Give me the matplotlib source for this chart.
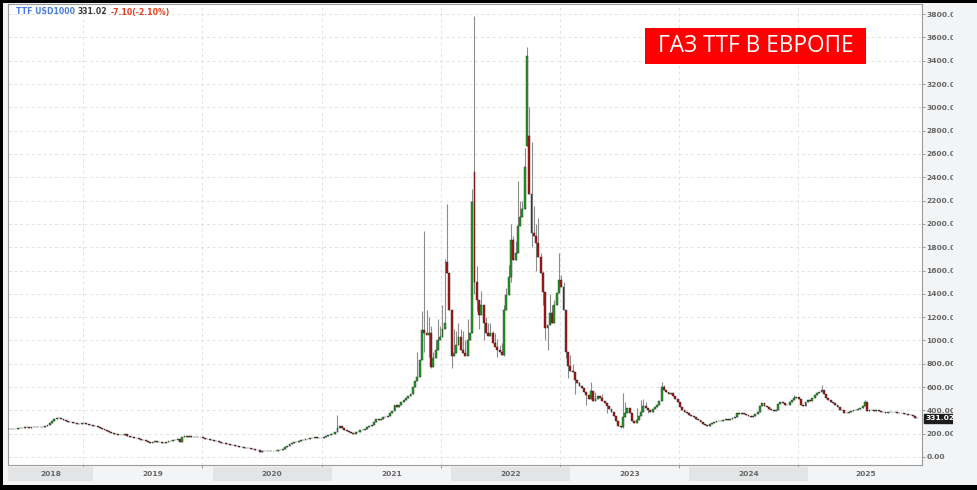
import numpy as np
import pandas as pd
import matplotlib
matplotlib.use("Agg")
import matplotlib.pyplot as plt
import matplotlib.dates as mdates
import matplotlib.transforms as mtransforms
from matplotlib.patches import Rectangle

# weekly closes, USD per 1000 m3
c2018 = [238, 240, 243, 241, 246, 252, 249, 253, 255, 251, 255, 257, 254, 258, 256,
         258, 264, 278, 292, 310, 327, 333, 338, 330, 318, 312, 304, 300, 292, 288,
         284, 286, 290, 292, 285, 275, 270, 266]
c2019 = [262, 255, 247, 240, 230, 222, 212, 205, 200, 196, 190, 186, 190, 195, 182,
         175, 170, 163, 160, 152, 148, 144, 136, 128, 123, 128, 140, 132, 126, 118,
         124, 132, 138, 140, 144, 147, 152, 132, 175, 176, 174, 177, 175, 173, 172,
         170, 167, 163, 158, 152, 147, 142]
c2020 = [140, 133, 128, 122, 116, 112, 108, 104, 100, 97, 92, 88, 84, 80, 76,
         74, 72, 68, 64, 60, 44, 48, 52, 54, 52, 55, 54, 53, 56, 60,
         72, 84, 95, 110, 122, 126, 132, 140, 145, 148, 152, 155, 160, 165, 168,
         166, 162, 164, 172, 180, 186, 195]
c2021 = [200, 215, 252, 262, 245, 232, 225, 212, 205, 198, 210, 215, 228, 232, 240,
         255, 262, 270, 300, 330, 318, 325, 340, 345, 350, 375, 395, 447, 433, 450,
         475, 490, 510, 519, 540, 600, 650, 690, 830, 1092, 1066, 1050, 1060, 774, 851,
         920, 1006, 1032, 1100, 1152, 1582, 1264]
c2022 = [870, 894, 963, 1032, 920, 894, 870, 1000, 1066, 2184, 1505, 1350, 1221, 1300, 1150,
         1066, 1040, 1066, 980, 946, 920, 900, 877, 1264, 1393, 1548, 1866, 1694, 1754, 1978,
         2055, 2124, 2485, 3440, 2253, 1926, 1892, 1840, 1720, 1582, 1419, 1109, 1135, 1238, 1152,
         1300, 1410, 1522, 1462, 1264, 903, 780]
c2023 = [740, 730, 660, 636, 610, 590, 560, 530, 500, 570, 480, 500, 520, 505, 480,
         460, 440, 410, 390, 350, 310, 265, 260, 345, 380, 420, 380, 305, 292, 318,
         350, 390, 440, 420, 404, 390, 410, 430, 447, 476, 600, 575, 555, 540, 548,
         525, 500, 470, 430, 400, 390, 375]
c2024 = [361, 350, 340, 325, 315, 300, 285, 270, 262, 285, 295, 300, 305, 310, 308,
         318, 322, 316, 325, 332, 345, 378, 372, 378, 368, 360, 353, 345, 350, 372,
         390, 440, 462, 440, 430, 412, 404, 398, 404, 455, 470, 462, 447, 445, 470,
         490, 505, 516, 500, 447, 440, 470]
c2025 = [490, 476, 505, 533, 545, 560, 576, 540, 510, 490, 470, 464, 447, 430, 404,
         400, 380, 378, 387, 395, 404, 402, 410, 421, 440, 473, 395, 400, 404, 398,
         404, 392, 387, 385, 380, 384, 386, 385, 382, 380, 379, 376, 372, 368, 362,
         358, 350, 338.12, 331.02]
first_open = 236

# opens that gap away from the previous close
open_gap = {"2021-12-20": 1677, "2022-03-14": 2442, "2022-08-22": 2666, "2022-08-29": 2752}

# wick extremes for the weeks where they stick out
wick_hi = {
    "2021-01-18": 361, "2021-09-20": 900, "2021-10-04": 1250, "2021-10-11": 1935,
    "2021-10-18": 1264, "2021-10-25": 1200, "2021-11-01": 1120, "2021-11-08": 900,
    "2021-11-15": 1000, "2021-11-22": 1180, "2021-11-29": 1120, "2021-12-06": 1300,
    "2021-12-13": 1700, "2021-12-20": 2167, "2022-01-03": 1150, "2022-01-10": 1100,
    "2022-01-17": 1080, "2022-01-24": 1150, "2022-01-31": 1100, "2022-02-07": 1080,
    "2022-02-14": 1000, "2022-02-21": 1180, "2022-03-07": 2300, "2022-03-14": 3784,
    "2022-03-21": 1640, "2022-04-04": 1420, "2022-04-11": 1250, "2022-04-18": 1200,
    "2022-04-25": 1150, "2022-05-02": 1150, "2022-05-09": 1080, "2022-05-16": 1060,
    "2022-05-23": 1010, "2022-05-30": 960, "2022-06-06": 980, "2022-06-13": 1300,
    "2022-06-20": 1450, "2022-06-27": 1650, "2022-07-04": 2000, "2022-07-11": 1900,
    "2022-07-18": 1850, "2022-07-25": 2365, "2022-08-01": 2200, "2022-08-08": 2200,
    "2022-08-15": 2650, "2022-08-22": 3517, "2022-08-29": 3000, "2022-09-05": 2700,
    "2022-09-12": 2150, "2022-09-19": 2000, "2022-09-26": 2050, "2022-10-03": 1750,
    "2022-10-10": 1600, "2022-10-17": 1380, "2022-10-31": 1400, "2022-11-07": 1300,
    "2022-11-14": 1350, "2022-11-28": 1754, "2022-12-05": 1560, "2022-12-12": 1500,
    "2023-01-02": 877, "2023-01-09": 800, "2023-01-16": 700, "2023-01-30": 640,
    "2023-02-13": 570, "2023-03-06": 640, "2023-03-13": 560, "2023-03-20": 560,
    "2023-04-10": 540, "2023-06-12": 550, "2023-06-19": 470, "2023-07-03": 400,
    "2023-07-24": 420, "2023-08-07": 490, "2023-08-14": 500, "2023-08-21": 470,
    "2023-10-09": 640, "2023-10-16": 620, "2024-11-18": 530, "2025-02-10": 619,
    "2025-06-23": 490,
}
wick_lo = {
    "2021-10-11": 900, "2021-10-25": 860, "2021-11-01": 760, "2022-01-03": 760,
    "2022-03-07": 1060, "2022-03-14": 1400, "2022-03-21": 1250, "2022-03-28": 1100,
    "2022-04-11": 1000, "2022-05-23": 860, "2022-06-13": 870, "2022-07-04": 1500,
    "2022-09-05": 1800, "2022-09-19": 1600, "2022-10-10": 1300, "2022-10-17": 1000,
    "2022-10-24": 920, "2022-12-19": 850, "2022-12-26": 680, "2023-01-16": 540,
    "2023-02-20": 450, "2023-04-24": 380, "2023-06-05": 245, "2023-06-12": 250,
    "2023-08-28": 380,
}

last_close = 331.02
change = -7.10
change_pct = -2.10
year_labels = [2018, 2019, 2020, 2021, 2022, 2023, 2024, 2025]

closes = np.array(c2018 + c2019 + c2020 + c2021 + c2022 + c2023 + c2024 + c2025, float)
opens = np.concatenate([[first_open], closes[:-1]])
dates = pd.date_range("2018-04-16", periods=len(closes), freq="7D")
keys = dates.strftime("%Y-%m-%d")
for i, k in enumerate(keys):
    if k in open_gap:
        opens[i] = open_gap[k]
highs = np.maximum(opens, closes)
lows = np.minimum(opens, closes)
for i, k in enumerate(keys):
    if k in wick_hi:
        highs[i] = max(highs[i], wick_hi[k])
    if k in wick_lo:
        lows[i] = min(lows[i], wick_lo[k])

W, H = 978, 490
def fx(px):
    return px / W
def fy(py):
    return 1 - py / H

bg = "#f3f4f6"
fig = plt.figure(figsize=(W / 100, H / 100), dpi=100)
fig.patch.set_facecolor(bg)

ax = fig.add_axes([fx(8), fy(465), fx(922) - fx(8), fy(4) - fy(465)])
ax.set_facecolor("white")
x = mdates.date2num(dates)
x0 = mdates.date2num(pd.Timestamp("2018-04-14"))
x1 = mdates.date2num(pd.Timestamp("2025-12-15"))
ax.set_xlim(x0, x1)
ax.set_ylim(-69, 3887)

# grid
for v in range(0, 3801, 200):
    ax.axhline(v, color="#e2e2e2", lw=0.7, ls=(0, (3, 3)), zorder=0)
grid_x = [mdates.date2num(pd.Timestamp(f"{y}-12-01")) for y in range(2018, 2025)]
for gx in grid_x:
    ax.axvline(gx, color="#e2e2e2", lw=0.7, ls=(0, (3, 3)), zorder=0)

# candles
up = closes >= opens
colors = np.where(up, "#1ea51e", "#b01414")
ax.vlines(x, lows, highs, color="#8c8c8c", lw=0.8, zorder=2)
ax.bar(x, closes - opens, bottom=opens, width=5.8, color=colors,
       edgecolor="#2a2a2a", linewidth=0.3, zorder=3)

for s in ax.spines.values():
    s.set_color("#9a9a9a")
    s.set_linewidth(0.8)

ax.yaxis.tick_right()
ax.set_yticks(range(0, 3801, 200))
ax.set_yticklabels([f"{v:.2f}" for v in range(0, 3801, 200)])
ax.tick_params(axis="y", labelsize=5.4, colors="#9a9a9a", labelcolor="#666666",
               length=2.5, width=0.7, pad=0.8)
for lbl in ax.get_yticklabels():
    lbl.set_fontweight("bold")
ax.set_xticks(grid_x)
ax.set_xticklabels([])
ax.tick_params(axis="x", length=2, width=0.7, colors="#9a9a9a")

# last price tag
trans = mtransforms.blended_transform_factory(ax.transAxes, ax.transData)
ax.annotate(f"{last_close:.2f}", xy=(1, last_close), xycoords=trans,
            xytext=(2.5, 0), textcoords="offset points", ha="left", va="center",
            fontsize=5.4, fontweight="bold", color="white", annotation_clip=False,
            bbox=dict(boxstyle="square,pad=0.2", fc="#1e1e1e", ec="#1e1e1e"))

# year band row
bax = fig.add_axes([fx(8), fy(481), fx(922) - fx(8), fy(467) - fy(481)])
bax.set_xlim(x0, x1)
bax.set_ylim(0, 1)
bax.axis("off")
for i, yr in enumerate(year_labels):
    a = mdates.date2num(pd.Timestamp(f"{yr}-01-01"))
    b = mdates.date2num(pd.Timestamp(f"{yr + 1}-01-01"))
    a, b = max(a, x0), min(b, x1)
    if i % 2 == 0:
        bax.add_patch(Rectangle((a, 0), b - a, 1, facecolor="#e3e4e6", edgecolor="none"))
    bax.text((a + b) / 2, 0.5, str(yr), ha="center", va="center", fontsize=5.4,
             fontweight="bold", color="#666666")

# cover that cuts the right labels like the widget edge
fig.patches.append(Rectangle((fx(953), fy(484)), 1 - fx(953), fy(4) - fy(484),
                             transform=fig.transFigure, facecolor=bg, edgecolor="none", zorder=1))

# header
t1 = fig.text(fx(16), fy(12), "TTF USD1000", color="#4a7fd8", fontsize=5.6,
              fontweight="bold", va="center", ha="left", zorder=5)
t2 = fig.text(0, 0, f"{last_close:.2f}", color="#3a3a3a", fontsize=5.6, fontweight="bold",
              va="center", ha="left", zorder=5)
t3 = fig.text(0, 0, f"{change:.2f}({change_pct:.2f}%)", color="#e2401c", fontsize=5.6,
              fontweight="bold", va="center", ha="left", zorder=5)
fig.canvas.draw()
r = fig.canvas.get_renderer()
bb = t1.get_window_extent(r)
t2.set_position((fx(bb.x1 + 3), fy(12)))
bb = t2.get_window_extent(r)
t3.set_position((fx(bb.x1 + 3), fy(12)))

# red label
fig.patches.append(Rectangle((fx(645), fy(64)), fx(866) - fx(645), fy(28) - fy(64),
                             transform=fig.transFigure, facecolor="#ff0000",
                             edgecolor="none", zorder=4))
fig.text(fx(755.5), fy(46.5), "ГАЗ TTF В ЕВРОПЕ", color="white", fontsize=16.3,
         family=["Open Sans", "DejaVu Sans"], ha="center", va="center", zorder=5)

# outer black frame
for rect in [(0, 0, 3, H), (0, 0, W, 3), (0, 485, W, 5)]:
    px, py, pw, ph = rect
    fig.patches.append(Rectangle((fx(px), fy(py + ph)), pw / W, ph / H,
                                 transform=fig.transFigure, facecolor="black",
                                 edgecolor="none", zorder=6))

fig.savefig("out.png", dpi=100, facecolor=bg)
